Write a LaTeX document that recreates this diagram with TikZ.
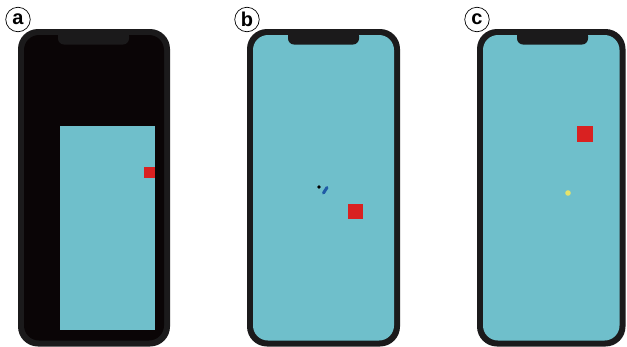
\documentclass[tikz,border=0pt]{standalone}
\usepackage{fontspec}
\setmainfont{Liberation Sans}
\begin{document}
\begin{tikzpicture}[x=1pt,y=-1pt,
  lbl/.style={circle,draw=black,line width=0.7pt,fill=white,minimum size=24.5pt,inner sep=0pt,font=\bfseries\fontsize{20}{20}\selectfont}]
\definecolor{framecol}{HTML}{1B1A1B}
\definecolor{scr}{HTML}{6FBFCB}
\definecolor{darkscr}{HTML}{0A0506}
\definecolor{redsq}{HTML}{D92121}
\definecolor{dotyel}{HTML}{E6E36A}
\definecolor{strokeblue}{HTML}{1F5BA6}
\useasboundingbox (0,0) rectangle (627,346);
\fill[white] (0,0) rectangle (627,346);
% labels
\node[lbl] (la) at (18,19.5) {a};
\node[lbl] (lb) at (247,19.5) {b};
\node[lbl] (lc) at (477,19.5) {c};
% phone template
\newcommand{\phone}[4]{%
  % #1 left, #2 right, #3 screen colour, #4 notch left
  \fill[framecol,rounded corners=20pt] (#1,29) rectangle (#2,346.5);
  \fill[#3,rounded corners=15pt] ({#1+6},35) rectangle ({#2-6},340.5);
  \fill[framecol,rounded corners=6pt] (#4,30) rectangle ({#4+71},44.5);
  \fill[framecol] ({#4-4},30) rectangle ({#4+75},35);
  \fill[#3] ({#4-4},39) arc[start angle=180,end angle=90,radius=4] -- ({#4-4},35) -- cycle;
  \fill[#3] ({#4+75},39) arc[start angle=0,end angle=90,radius=4] -- ({#4+75},35) -- cycle;
}
\phone{18}{170}{darkscr}{58}
\phone{247}{400}{scr}{288}
\phone{477}{625.5}{scr}{517}
% panel a content
\fill[scr] (60,126) rectangle (155,330);
\fill[redsq] (144,167) rectangle (155,177.5);
% panel b content
\fill[black] (319,187) circle[radius=1.9];
\draw[strokeblue,line width=3pt,line cap=round] (327,187.5) -- (323.5,193);
\fill[redsq] (347.5,203.5) rectangle (363,219);
% panel c content
\fill[redsq] (577,126) rectangle (593,141.5);
\fill[dotyel] (568,193) circle[radius=2.8];
\end{tikzpicture}
\end{document}
